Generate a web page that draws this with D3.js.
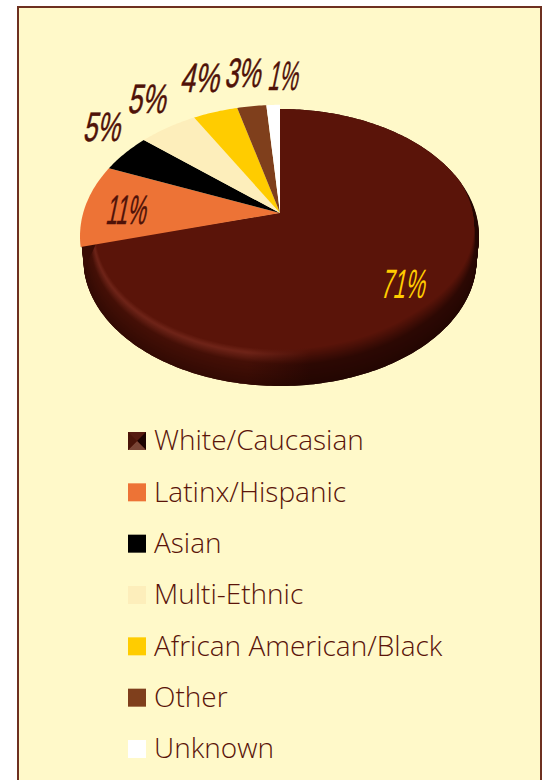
<!DOCTYPE html>
<html>
<head>
<meta charset="utf-8">
<script src="https://cdn.jsdelivr.net/npm/d3@7"></script>
<style>
  html, body { margin: 0; padding: 0; background: #fff; overflow: hidden; }
  svg { display: block; }
</style>
</head>
<body>
<svg id="chart"></svg>
<script>
const categories = ["White/Caucasian", "Latinx/Hispanic", "Asian", "Multi-Ethnic", "African American/Black", "Other", "Unknown"];
const values = [70.9, 10.2, 4.9, 5.6, 4.3, 2.8, 1.3];
const labels = ["71%", "11%", "5%", "5%", "4%", "3%", "1%"];
const colors = ["#5a1409", "#ed7336", "#000000", "#fdeebb", "#ffcc00", "#7f3f1c", "#ffffff"];

const width = 546, height = 780;
const ink = "#5a1409", paper = "#fff9c9";

const svg = d3.select("#chart").attr("width", width).attr("height", height);
const defs = svg.append("defs");

svg.append("rect")
    .attr("x", 18).attr("y", 7)
    .attr("width", 523).attr("height", 800)
    .attr("fill", paper)
    .attr("stroke", "#6e3020")
    .attr("stroke-width", 2);

// pie seen in perspective, the centre point sits above the middle of the ellipse
const cx = 280, cy = 213, up = 104, down = 149, rimDepth = 24;
const k = (down - up) / (down + up);
const ay = up * (1 + k);
const ax = 199 * Math.sqrt(1 - k * k);

function project(a, r) {
    const u = r * Math.sin(a), v = r * Math.cos(a), d = 1 + k * v;
    return [cx + ax * u / d, cy - ay * v / d];
}

const arcs = d3.pie().sort(null)(values);
const line = d3.line();

function outline(arc, radius, dy, sx = 1, sy = 1) {
    const n = Math.ceil((arc.endAngle - arc.startAngle) * 60) + 1;
    const pts = [[cx, cy + dy]];
    d3.range(n + 1).forEach(i => {
        const a = arc.startAngle + (arc.endAngle - arc.startAngle) * i / n;
        const p = project(a, radius(a));
        pts.push([cx + (p[0] - cx) * sx, cy + (p[1] - cy) * sy + dy]);
    });
    return line(pts) + "Z";
}

// rim of the big slice, painted from the dark outer edge up to the flat top
const rimLeft = d3.scaleLinear().domain([0, 0.14, 0.4, 1])
    .range(["#5a1409", "#6f2418", "#440f06", "#320a03"]).interpolate(d3.interpolateRgb);
const rimRight = d3.scaleLinear().domain([0, 0.45, 1])
    .range(["#5a1409", "#2c0803", "#230602"]).interpolate(d3.interpolateRgb);
// how far the flat top pulls back from the edge, by angle round the pie
const front = d3.scaleLinear().domain([75, 140].map(d => d * Math.PI / 180)).range([0, 1]).clamp(true);

function rimGradient(id, left, right) {
    const g = defs.append("linearGradient").attr("id", id)
        .attr("gradientUnits", "userSpaceOnUse")
        .attr("x1", 80).attr("x2", 479).attr("y1", 0).attr("y2", 0);
    g.append("stop").attr("offset", 0.42).attr("stop-color", left);
    g.append("stop").attr("offset", 0.58).attr("stop-color", right);
}

const rim = svg.append("g").attr("class", "rim");

// outer wall, tapers in a little towards the bottom
rimGradient("wall", "#3a0c04", "#240602");
d3.range(rimDepth, -1, -1).forEach(dy => {
    rim.append("path")
        .attr("d", outline(arcs[0], () => 1, dy, 1 - 0.012 * dy / rimDepth))
        .attr("fill", "url(#wall)");
});

// rounded lip on top of the wall
const steps = 40;
d3.range(steps, -1, -1).forEach(i => {
    const t = i / steps;
    const id = "rim" + i;
    rimGradient(id, rimLeft(t), rimRight(t));
    const radius = a => 1 - 0.07 * (1 - t) * front(a);
    rim.append("path")
        .attr("d", outline(arcs[0], radius, rimDepth * t, 1 - 0.012 * t))
        .attr("fill", `url(#${id})`);
});

// the small slices stand slightly proud of the big one
svg.append("g").attr("class", "slices")
    .selectAll("path")
    .data(arcs.slice(1))
    .enter()
    .append("path")
    .attr("d", d => outline(d, () => 1, 0, 1.005, 1.04))
    .attr("fill", (d, i) => colors[i + 1]);

// percent labels
const labelAt = [[402, 298], [125, 224], [101, 141], [146, 113], [199, 92], [242, 87], [282, 90]];
const labelWidth = [44, 40, 37, 38, 39, 36, 30];
svg.append("g").attr("class", "labels")
    .selectAll("text")
    .data(labels)
    .enter()
    .append("text")
    .attr("transform", (d, i) => `translate(${labelAt[i][0]},${labelAt[i][1]}) skewX(-12)`)
    .attr("text-anchor", "middle")
    .attr("font-family", "'Liberation Sans', sans-serif")
    .attr("font-size", 41)
    .attr("textLength", (d, i) => labelWidth[i])
    .attr("lengthAdjust", "spacingAndGlyphs")
    .attr("fill", (d, i) => i === 0 ? "#ffcc00" : "#4f1208")
    .attr("stroke", (d, i) => i === 0 ? "none" : "#4f1208")
    .attr("stroke-width", 0.5)
    .text(d => d);

// legend
const legendY = d3.scalePoint().domain(categories).range([441, 749]);
const swatch = 18, legendX = 128;

const legend = svg.append("g").attr("class", "legend")
    .selectAll("g")
    .data(categories)
    .enter()
    .append("g")
    .attr("transform", d => `translate(${legendX},${legendY(d)})`);

legend.append("rect")
    .attr("x", 0).attr("y", -swatch / 2)
    .attr("width", swatch).attr("height", swatch)
    .attr("fill", (d, i) => colors[i]);

legend.append("text")
    .attr("x", 26)
    .attr("dy", "0.33em")
    .attr("font-family", "'Open Sans', sans-serif")
    .attr("font-weight", 300)
    .attr("font-size", 28)
    .attr("fill", ink)
    .text(d => d);

// first swatch is bevelled like the big slice
const s = swatch / 2;
const bevel = [
    { pts: [[-s, -s], [s, -s], [0, 0]], fill: "#561c10" },
    { pts: [[s, -s], [s, s], [0, 0]], fill: "#1c0401" },
    { pts: [[s, s], [-s, s], [0, 0]], fill: "#7a4636" },
    { pts: [[-s, s], [-s, -s], [0, 0]], fill: "#4a1509" }
];
svg.append("g")
    .attr("transform", `translate(${legendX + s},${legendY(categories[0])})`)
    .selectAll("path")
    .data(bevel)
    .enter()
    .append("path")
    .attr("d", d => line(d.pts) + "Z")
    .attr("fill", d => d.fill);
</script>
</body>
</html>
